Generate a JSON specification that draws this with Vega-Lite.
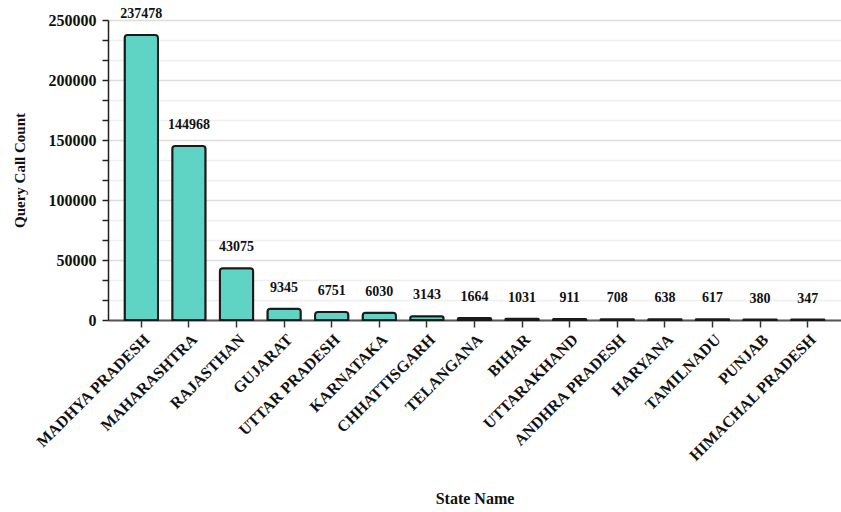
{
  "$schema": "https://vega.github.io/schema/vega-lite/v6.json",
  "width": 733,
  "height": 300,
  "autosize": {"type": "none"},
  "padding": {"left": 108, "top": 20, "right": 0, "bottom": 192},
  "background": "white",
  "config": {
    "font": "Liberation Serif",
    "view": {"stroke": null}
  },
  "data": {
    "values": [
      {"state": "MADHYA PRADESH", "count": 237478},
      {"state": "MAHARASHTRA", "count": 144968},
      {"state": "RAJASTHAN", "count": 43075},
      {"state": "GUJARAT", "count": 9345},
      {"state": "UTTAR PRADESH", "count": 6751},
      {"state": "KARNATAKA", "count": 6030},
      {"state": "CHHATTISGARH", "count": 3143},
      {"state": "TELANGANA", "count": 1664},
      {"state": "BIHAR", "count": 1031},
      {"state": "UTTARAKHAND", "count": 911},
      {"state": "ANDHRA PRADESH", "count": 708},
      {"state": "HARYANA", "count": 638},
      {"state": "TAMILNADU", "count": 617},
      {"state": "PUNJAB", "count": 380},
      {"state": "HIMACHAL PRADESH", "count": 347}
    ]
  },
  "encoding": {
    "x": {
      "field": "state",
      "type": "nominal",
      "sort": null,
      "scale": {"paddingInner": 0.3, "paddingOuter": 0.35},
      "axis": {
        "title": "State Name",
        "titleFont": "Liberation Serif",
        "titleFontSize": 16,
        "titleFontWeight": "bold",
        "titleColor": "#111",
        "titlePadding": 27,
        "labelAngle": -45,
        "labelFont": "Liberation Serif",
        "labelFontSize": 16,
        "labelFontWeight": "bold",
        "labelColor": "#111",
        "labelPadding": 4,
        "domainColor": "#555",
        "domainWidth": 2,
        "tickColor": "#333",
        "tickWidth": 1.5,
        "tickSize": 7,
        "grid": false
      }
    },
    "y": {
      "field": "count",
      "type": "quantitative",
      "scale": {"domain": [0, 250000], "nice": false},
      "axis": {
        "title": "Query Call Count",
        "titleFont": "Liberation Serif",
        "titleFontSize": 15,
        "titleFontWeight": "bold",
        "titleColor": "#111",
        "titlePadding": 21,
        "values": [0, 16667, 33333, 50000, 66667, 83333, 100000, 116667, 133333, 150000, 166667, 183333, 200000, 216667, 233333, 250000],
        "labelExpr": "datum.value % 50000 === 0 ? datum.value : ''",
        "labelFont": "Liberation Serif",
        "labelFontSize": 16,
        "labelFontWeight": "bold",
        "labelColor": "#111",
        "labelPadding": 6,
        "labelOverlap": false,
        "domainColor": "#222",
        "domainWidth": 1.5,
        "tickColor": "#222",
        "tickWidth": 1.5,
        "tickSize": 6,
        "grid": true,
        "gridColor": {"condition": {"test": "datum.value % 50000 === 0", "value": "#dcdcdc"}, "value": "#efefef"},
        "gridWidth": 1.5
      }
    }
  },
  "layer": [
    {
      "mark": {
        "type": "bar",
        "color": "#5fd4c4",
        "stroke": "#1a1a1a",
        "strokeWidth": 2,
        "cornerRadiusTopLeft": 3,
        "cornerRadiusTopRight": 3
      }
    },
    {
      "mark": {
        "type": "text",
        "dy": -21,
        "font": "Liberation Serif",
        "fontSize": 14,
        "fontWeight": "bold",
        "color": "#111"
      },
      "encoding": {"text": {"field": "count", "type": "quantitative", "format": "d"}}
    }
  ]
}
